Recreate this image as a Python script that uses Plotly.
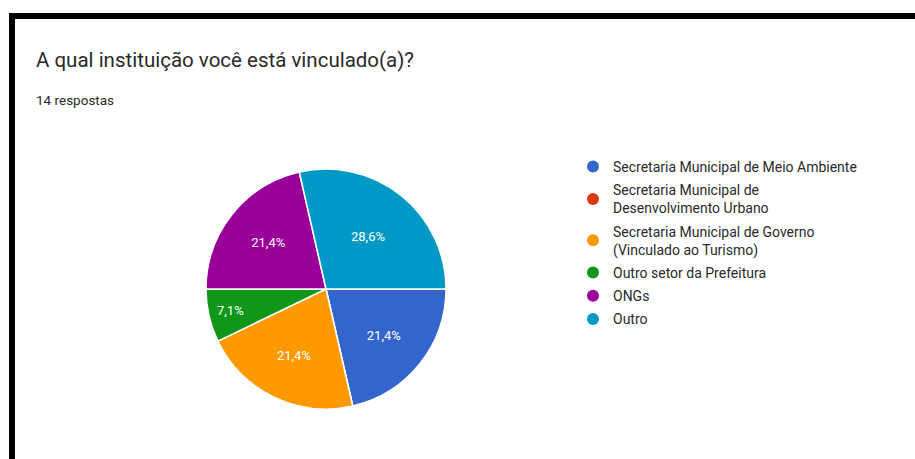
import plotly.graph_objects as go

W, H = 915, 459

# Survey answers: "A qual instituição você está vinculado(a)?" (14 respostas)
categories = [
    "Secretaria Municipal de Meio Ambiente",
    "Secretaria Municipal de<br>Desenvolvimento Urbano",
    "Secretaria Municipal de Governo<br>(Vinculado ao Turismo)",
    "Outro setor da Prefeitura",
    "ONGs",
    "Outro",
]
counts = [3, 0, 3, 1, 3, 4]
colors = ["#3366cc", "#dc3912", "#ff9900", "#109618", "#990099", "#0099c6"]

title_text = "A qual instituição você está vinculado(a)?"
subtitle_text = "14 respostas"

FONT = "Roboto"


def px(x):
    return x / W


def py(y):
    return 1 - y / H


total = sum(counts)
slice_text = [
    (f"{c / total * 100:.1f}%".replace(".", ",") if c > 0 else "") for c in counts
]

fig = go.Figure()

fig.add_trace(
    go.Pie(
        labels=categories,
        values=counts,
        text=slice_text,
        textinfo="text",
        textposition="inside",
        insidetextfont=dict(family=FONT, size=13, color="white"),
        marker=dict(colors=colors, line=dict(color="white", width=1.5)),
        sort=False,
        direction="clockwise",
        rotation=90,
        showlegend=False,
        hoverinfo="label+percent",
        domain=dict(x=[px(206), px(446)], y=[py(409), py(169)]),
    )
)

# Legend entries with round markers
for name, col in zip(categories, colors):
    fig.add_trace(
        go.Scatter(
            x=[None],
            y=[None],
            mode="markers",
            name=name,
            marker=dict(symbol="circle", size=12, color=col),
            showlegend=True,
            legendgroup=name,
        )
    )

fig.update_layout(
    width=W,
    height=H,
    margin=dict(l=0, r=0, t=0, b=0),
    paper_bgcolor="white",
    plot_bgcolor="white",
    separators=",.",
    xaxis=dict(visible=False),
    yaxis=dict(visible=False),
    font=dict(family=FONT, color="#2a2a2a"),
    legend=dict(
        x=px(573),
        y=py(151),
        xanchor="left",
        yanchor="top",
        font=dict(family=FONT, size=14, color="#2a2a2a"),
        bgcolor="rgba(0,0,0,0)",
        tracegroupgap=2,
        itemsizing="constant",
    ),
    annotations=[
        dict(
            text=title_text,
            x=px(34),
            y=py(60),
            xref="paper",
            yref="paper",
            xanchor="left",
            yanchor="middle",
            showarrow=False,
            font=dict(family=FONT, size=20.5, color="#2a2a2a"),
        ),
        dict(
            text=subtitle_text,
            x=px(34),
            y=py(100),
            xref="paper",
            yref="paper",
            xanchor="left",
            yanchor="middle",
            showarrow=False,
            font=dict(family=FONT, size=13.5, color="#2a2a2a"),
        ),
    ],
    shapes=[
        # black frame: top and left bars
        dict(type="rect", xref="paper", yref="paper",
             x0=px(9), x1=1, y0=py(19), y1=py(13),
             fillcolor="black", line=dict(width=0), layer="above"),
        dict(type="rect", xref="paper", yref="paper",
             x0=px(9), x1=px(15), y0=0, y1=py(13),
             fillcolor="black", line=dict(width=0), layer="above"),
    ],
)

fig.write_html("out.html")
